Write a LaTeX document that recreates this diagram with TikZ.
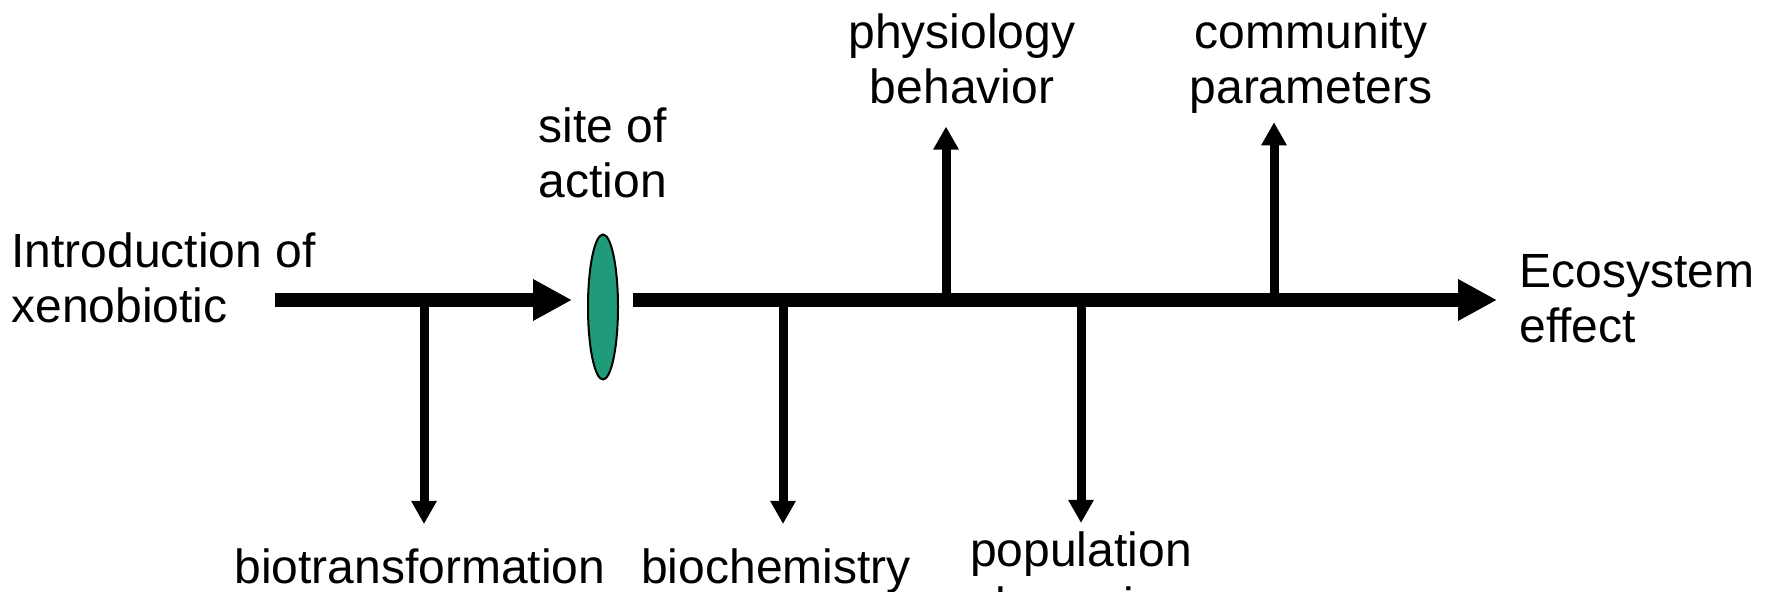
\documentclass[tikz,border=0pt]{standalone}
\usepackage{fontspec}
\setmainfont{Liberation Sans}
\usetikzlibrary{arrows.meta,shapes.geometric}
\definecolor{siteteal}{RGB}{31,155,122}
\tikzset{
  mainflow/.style={-{Triangle[length=19.5pt,width=19.5pt]},line width=7pt},
  branch/.style={-{Triangle[length=11.5pt,width=12pt]},line width=4.5pt},
  siteell/.style={ellipse,draw=black,line width=1pt,fill=siteteal,
    minimum width=15pt,minimum height=72.5pt,inner sep=0pt},
  lbl/.style={font=\fontsize{24}{27.5}\selectfont,inner sep=0pt,align=center},
}

\begin{document}
\begin{tikzpicture}[x=0.5pt,y=-0.5pt]
  \useasboundingbox (0,0) rectangle (1769,592);
  % labels
  \node[lbl,align=left,anchor=west] (intro) at (11,278) {Introduction of\\xenobiotic};
  \node[lbl] (siteact) at (603,153) {site of\\action};
  \node[lbl] (physio) at (962,59) {physiology\\behavior};
  \node[lbl] (commun) at (1311,64) {community\\parameters};
  \node[lbl,align=left,anchor=west] (ecosys) at (1519,299) {Ecosystem\\effect};
  \node[lbl,anchor=north] (biotrans) at (420,548) {biotransformation};
  \node[lbl,anchor=north] (biochem) at (776,548) {biochemistry};
  \node[lbl,anchor=north] (popdyn) at (1081,531) {population\\dynamics};
  \node[siteell] (site) at (603,307) {};
  % main line and junctions
  \coordinate (xeno) at (275,300);
  \coordinate (jbio) at (424,300);
  \coordinate (jchem) at (783,300);
  \coordinate (jphys) at (946,300);
  \coordinate (jpop) at (1081,300);
  \coordinate (jcomm) at (1274,300);
  \draw[mainflow,shorten >=7.5pt] (xeno) -- (xeno -| site.west);
  \draw[mainflow,shorten <=7pt,shorten >=11pt] (xeno -| site.east) -- (xeno -| ecosys.west);
  \draw[branch,shorten >=12pt] (jbio) -- (jbio |- biotrans.north);
  \draw[branch,shorten >=12pt] (jchem) -- (jchem |- biochem.north);
  \draw[branch,shorten >=4pt] (jpop) -- (jpop |- popdyn.north);
  \draw[branch,shorten >=11pt] (jphys) -- (jphys |- physio.south);
  \draw[branch,shorten >=4pt] (jcomm) -- (jcomm |- commun.south);
\end{tikzpicture}
\end{document}
